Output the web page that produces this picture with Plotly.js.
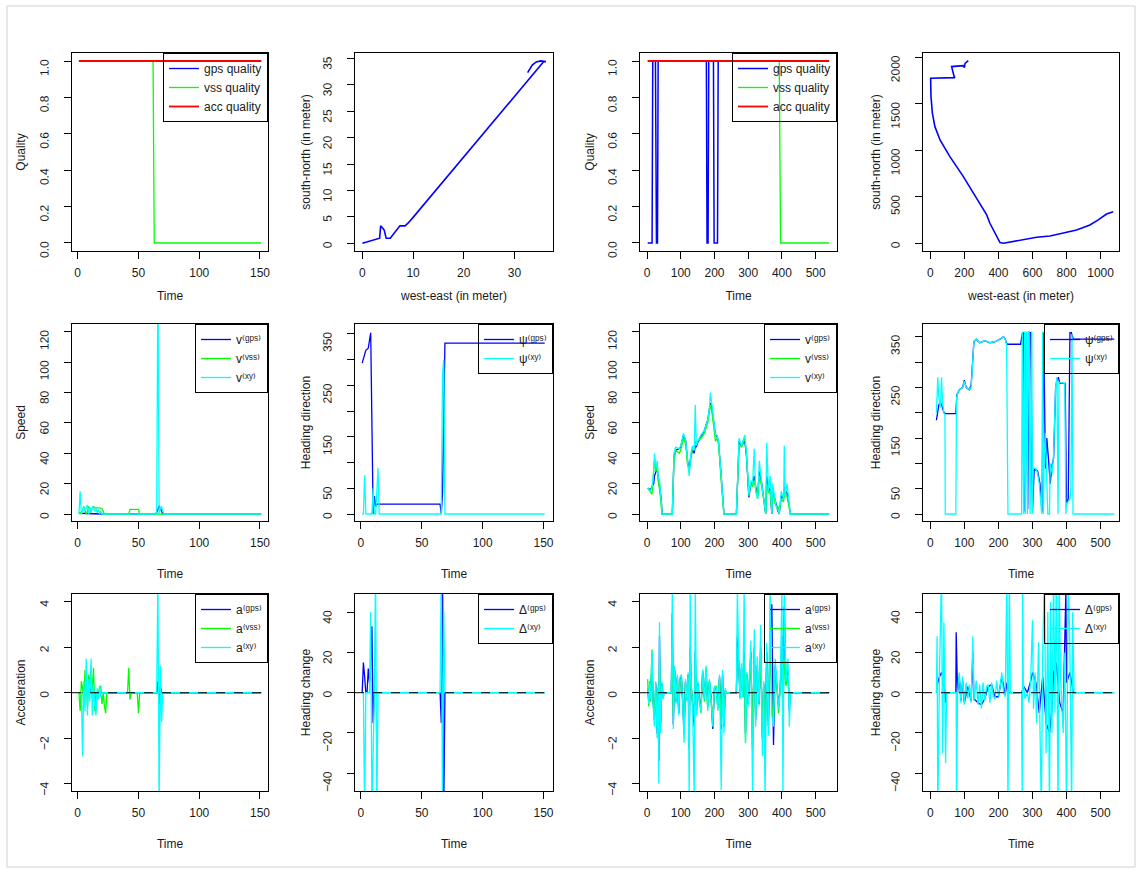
<!DOCTYPE html>
<html><head><meta charset="utf-8">
<script src="https://cdn.plot.ly/plotly-3.0.1.min.js"></script>
<style>html,body{margin:0;padding:0;background:#fff;} #chart{width:1142px;height:873px;}</style>
</head><body><div id="chart"></div>
<script>
// ---------- tick labels ----------
const ticksTimeA = [0, 50, 100, 150];
const ticksTimeB = [0, 100, 200, 300, 400, 500];
const ticksQuality = [0, 0.2, 0.4, 0.6, 0.8, 1.0];
const ticksQualityText = ["0.0", "0.2", "0.4", "0.6", "0.8", "1.0"];
const ticksWestEastA = [0, 10, 20, 30];
const ticksSouthNorthA = [0, 5, 10, 15, 20, 25, 30, 35];
const ticksWestEastB = [0, 200, 400, 600, 800, 1000];
const ticksSouthNorthB = [0, 500, 1000, 1500, 2000];
const ticksSpeed = [0, 20, 40, 60, 80, 100, 120];
const ticksHeading = [0, 50, 150, 250, 350];
const ticksHeadingMinor = [100, 200, 300];
const ticksAcc = [-4, -2, 0, 2, 4];
const ticksHeadChange = [-40, -20, 0, 20, 40];

// ---------- legend labels (superscripts as Unicode modifier letters) ----------
const labQuality = ['gps quality', 'vss quality', 'acc quality'];
const labSpeed = ['v\u207D\u1D4D\u1D56\u02E2\u207E', 'v\u207D\u1D5B\u02E2\u02E2\u207E', 'v\u207D\u02E3\u02B8\u207E'];
const labHeading = ['\u03C8\u207D\u1D4D\u1D56\u02E2\u207E', '\u03C8\u207D\u02E3\u02B8\u207E'];
const labAcc = ['a\u207D\u1D4D\u1D56\u02E2\u207E', 'a\u207D\u1D5B\u02E2\u02E2\u207E', 'a\u207D\u02E3\u02B8\u207E'];
const labChange = ['\u0394\u207D\u1D4D\u1D56\u02E2\u207E', '\u0394\u207D\u02E3\u02B8\u207E'];

// ---------- trip A (left two columns) ----------
const qTimeA = [1, 151];
const gpsQualityA = [1, 1];
const accQualityA = [1, 1];
const vssQTimeA = [1, 62, 63, 151];
const vssQualityA = [1, 1, 0, 0];

const pathXA = [0, 1.5, 3.4, 3.6, 3.9, 4.3, 4.6, 4.7, 5.5, 6.2, 6.8, 7.4, 8.4, 9.0, 10, 15, 20, 25, 30, 35.7, 36.2, 35.2, 34.3, 33.5, 32.6];
const pathYA = [0, 0.4, 0.95, 3.3, 3.0, 2.5, 1.3, 0.95, 0.95, 1.8, 2.5, 3.3, 3.3, 3.8, 4.9, 10.6, 16.3, 22.0, 27.7, 34.3, 34.4, 34.5, 34.3, 33.7, 32.3];

const spdGpsTimeA = [1, 5, 10, 20, 30, 40, 50, 60, 64, 65, 66, 67, 68, 69, 70, 80, 100, 151];
const spdGpsA = [0.5, 0.3, 0.2, 0, 0, 0, 0, 0, 0, 1, 3, 5, 4, 2, 0, 0, 0, 0];
const spdVssTimeA = [1, 2, 3, 4, 5, 6, 7, 8, 9, 10, 11, 12, 13, 14, 16, 18, 20, 21, 22, 25, 40, 42, 43, 50, 51, 55, 60, 63, 64, 151];
const spdVssA = [0, 1, 0, 3, 5, 3, 0, 2, 5, 4, 1, 4, 5, 4, 4, 4, 3.5, 2, 0, 0, 0, 0, 3, 3, 0, 0, 0, 0, 0, 0];
const spdXyTimeA = [1, 2, 3, 4, 5, 6, 7, 8, 9, 10, 11, 12, 13, 14, 15, 16, 17, 18, 19, 20, 25, 30, 60, 64, 65, 66, 67, 68, 69, 70, 71, 75, 151];
const spdXyA = [0, 15, 0, 3, 5, 2, 4, 6, 0, 4, 1, 5, 3, 2, 4, 1, 3, 0, 2, 0, 0, 0, 0, 0, 0, 160, 0, 4, 5, 2, 0, 0, 0];

const hdGpsTimeA = [1, 3, 4, 6, 7, 8, 10, 11, 12, 13, 65, 66, 67, 69, 151];
const hdGpsA = [293, 312, 318, 322, 340, 352, 0, 35, 15, 19, 19, 0, 40, 332, 332];
const hdXyTimeA = [1, 2, 3, 4, 9, 10, 11, 12, 13, 14, 15, 66, 67, 68, 69, 151];
const hdXyA = [0, 0, 75, 0, 0, 50, 0, 0, 40, 90, 0, 0, 270, 300, 0, 0];

const accGpsTimeA = [1, 5, 10, 11, 12, 60, 65, 66, 67, 68, 69, 70, 151];
const accGpsA = [0, 0, 0, 0.2, 0, 0, 0, 0.5, -0.5, 0.3, 0, 0, 0];
const accVssTimeA = [1, 2, 3, 4, 5, 6, 7, 8, 9, 10, 11, 12, 13, 14, 15, 16, 18, 19, 20, 21, 22, 23, 24, 25, 41, 42, 43, 44, 49, 50, 51, 52, 151];
const accVssA = [0, -0.8, 0.5, 0.2, -0.5, 1.0, 0.5, -0.6, 0.8, 0.3, 1.2, -0.2, 1.1, -0.8, 0, -0.3, 0.2, 0.3, -0.5, 0, -0.6, -0.9, 0, 0, 0, 1.1, -0.3, 0, 0, -0.9, 0, 0, 0];
const accXyTimeA = [1, 2, 3, 4, 5, 6, 7, 8, 9, 10, 11, 12, 13, 14, 15, 16, 17, 18, 19, 20, 21, 25, 64, 65, 66, 67, 68, 69, 70, 71, 151];
const accXyA = [0, 0, 0, -2.8, 0.5, -0.8, 1.5, -1.0, 0.6, -0.4, 1.5, -1.0, 0.4, -0.5, -1.0, 0.2, -0.3, 0.3, -0.2, 0, 0, 0, 0, 0, 5, -5, 1.2, -1.3, 0, 0, 0];

const hcGpsTimeA = [1, 2, 3, 4, 5, 6, 7, 8, 9, 10, 11, 12, 60, 65, 66, 67, 68, 69, 151];
const hcGpsA = [0, 15, 8, 0, 0, 12, 5, 12, 33, -15, 0, 0, 0, 0, -15, 60, -60, 0, 0];
const hcXyTimeA = [1, 2, 3, 4, 7, 8, 9, 11, 12, 13, 14, 15, 60, 65, 66, 67, 68, 69, 151];
const hcXyA = [0, 0, -60, 0, 0, 40, -60, 0, 60, -60, 0, 0, 0, 0, 60, -60, 40, 0, 0];

// ---------- trip B (right two columns) ----------
const gpsQTimeB = [2, 15, 17, 25, 28, 31, 33, 176, 178, 181, 183, 197, 199, 209, 211, 540];
const gpsQualityB = [0, 0, 1, 1, 0, 0, 1, 1, 0, 0, 1, 1, 0, 0, 1, 1];
const vssQTimeB = [2, 392, 396, 540];
const vssQualityB = [1, 1, 0, 0];
const accQTimeB = [2, 540];
const accQualityB = [1, 1];

const pathXB = [1074, 1035, 986, 937, 859, 781, 703, 624, 546, 468, 429, 409, 389, 350, 331, 272, 194, 115, 57, 27, 12, 4, 2, 145, 140, 125, 194, 200, 204, 223];
const pathYB = [340, 315, 251, 197, 143, 108, 79, 65, 36, 11, 0, 7, 72, 215, 305, 484, 717, 932, 1111, 1254, 1398, 1577, 1774, 1781, 1790, 1900, 1910, 1890, 1935, 1964];

const spdTimeB = [2, 10, 15, 20, 22, 27, 30, 33, 38, 42, 45, 75, 80, 85, 95, 100, 108, 115, 120, 125, 130, 135, 140, 143, 146, 150, 160, 170, 180, 185, 188, 192, 198, 203, 208, 212, 220, 228, 265, 273, 280, 290, 295, 302, 308, 313, 318, 322, 328, 333, 340, 347, 352, 355, 360, 365, 370, 372, 378, 383, 388, 392, 398, 405, 407, 410, 415, 420, 425, 540];
const spdGpsB = [17, 16, 18, 20, 25, 28, 30, 25, 18, 10, 0, 0, 38, 42, 43, 44, 52, 48, 35, 30, 38, 42, 40, 45, 44, 47, 51, 55, 62, 68, 73, 70, 60, 52, 51, 47, 25, 0, 0, 48, 45, 48, 38, 11, 20, 20, 25, 18, 12, 28, 20, 10, 0, 25, 15, 17, 0, 16, 10, 5, 2, 0, 12, 10, 18, 15, 14, 8, 0, 0];
const spdVssB = [17, 14, 13, 30, 35, 28, 32, 22, 15, 5, 0, 0, 35, 42, 40, 42, 50, 46, 33, 28, 38, 44, 42, 48, 46, 48, 50, 53, 60, 66, 72, 68, 55, 48, 50, 46, 22, 0, 0, 46, 44, 50, 38, 14, 20, 18, 22, 16, 10, 25, 18, 8, 0, 20, 14, 15, 2, 18, 8, 5, 5, 2, 10, 8, 16, 12, 12, 6, 0, 0];
const spdXyB = [17, 15, 18, 28, 40, 30, 35, 25, 20, 10, 0, 0, 40, 44, 43, 45, 53, 48, 35, 25, 40, 45, 42, 72, 45, 48, 52, 55, 62, 70, 80, 72, 60, 52, 52, 48, 25, 0, 0, 50, 45, 52, 40, 12, 22, 20, 43, 15, 10, 35, 20, 10, 0, 47, 15, 25, 0, 20, 10, 5, 3, 0, 15, 10, 45, 12, 20, 10, 0, 0];

const hdGpsTimeB = [18, 22, 25, 30, 35, 40, 45, 75, 78, 85, 95, 100, 105, 115, 120, 128, 135, 145, 160, 175, 190, 205, 215, 220, 225, 265, 270, 274, 278, 282, 286, 290, 295, 300, 305, 315, 322, 328, 333, 338, 342, 348, 352, 357, 362, 368, 372, 376, 380, 390, 396, 400, 405, 410, 414, 420, 540];
const hdGpsB = [185, 205, 215, 220, 212, 200, 198, 198, 235, 245, 250, 264, 250, 245, 255, 340, 345, 338, 342, 338, 340, 345, 350, 345, 335, 335, 355, 358, 5, 358, 10, 358, 358, 5, 88, 85, 60, 5, 358, 90, 150, 100, 60, 95, 110, 250, 265, 270, 258, 258, 258, 20, 30, 358, 358, 345, 345];
const hdXyTimeB = [18, 20, 22, 25, 28, 30, 33, 36, 40, 43, 44, 75, 77, 80, 85, 95, 100, 105, 115, 120, 128, 135, 145, 160, 175, 190, 205, 215, 220, 224, 228, 268, 270, 272, 274, 277, 279, 283, 285, 288, 290, 293, 296, 298, 300, 302, 310, 315, 320, 325, 327, 330, 332, 334, 338, 340, 345, 350, 352, 358, 362, 368, 372, 375, 378, 395, 398, 400, 410, 413, 416, 419, 422, 540];
const hdXyB = [200, 240, 270, 230, 215, 210, 270, 220, 200, 195, 0, 0, 230, 238, 245, 250, 262, 250, 245, 250, 340, 345, 338, 342, 338, 340, 345, 350, 345, 335, 0, 0, 360, 0, 0, 360, 0, 360, 0, 360, 360, 0, 360, 360, 0, 90, 90, 80, 60, 0, 0, 360, 0, 100, 160, 110, 0, 0, 100, 80, 120, 250, 270, 0, 260, 258, 0, 20, 30, 50, 355, 0, 0, 0];

const accTimeB = [2, 5, 8, 10, 12, 15, 18, 22, 26, 30, 33, 35, 37, 40, 44, 48, 50, 72, 75, 78, 82, 86, 90, 94, 98, 102, 106, 110, 114, 118, 122, 125, 128, 131, 135, 140, 143, 147, 151, 155, 160, 165, 170, 175, 180, 185, 190, 195, 200, 205, 210, 215, 220, 224, 228, 232, 235, 265, 268, 272, 276, 280, 284, 288, 292, 296, 300, 304, 308, 313, 318, 322, 327, 332, 337, 342, 346, 350, 355, 360, 365, 370, 375, 380, 385, 390, 395, 400, 403, 407, 412, 418, 422, 425, 540];
const accGpsB = [0.2, -0.3, 0.3, -0.2, 0.4, 1.2, -0.4, -1.2, 0.4, -1.8, 0.2, -3.0, 2.5, -1.5, 0.4, -0.2, 0, 0, 3.5, -1.4, 1.0, -0.4, 0.7, -0.9, 0.6, 0.7, -0.5, -1.8, 0.5, -0.3, 0.8, -2.5, 2.0, 0.3, -0.5, -1.5, 1.8, -0.8, 0.4, -0.3, -0.6, 0.9, -0.2, 1.0, -0.6, 0.5, -0.2, -1.6, 0.2, 0.2, -0.6, 0.7, -1.6, 0.8, -1.5, 0.1, 0, 0, 2.5, 1.0, -0.2, 1.1, -0.2, 2.0, -1.8, 0.8, -0.5, 0.6, 1.8, -2.5, 2.0, -1.2, 1.2, -0.5, 2.0, -2.0, 0.4, -2.5, 1.8, -1.5, 2.5, 3.9, -2.3, 1.2, 0.4, -0.6, 0.2, 2.5, -1.5, 3.8, 0.4, 1.0, -0.8, 0, 0];
const accVssB = [0.6, -0.6, 0.5, -0.4, 0.6, 1.9, -0.3, -1.0, 0.3, -1.5, 0.2, -2.0, 1.5, -1.2, 0.3, -0.2, 0, 0, 2.0, -1.0, 0.9, -0.3, 0.6, -0.7, 0.5, 0.6, -0.4, -1.5, 0.4, -0.2, 0.7, -1.5, 1.5, 0.3, -0.4, -1.2, 1.5, -0.6, 0.3, -0.2, -0.9, 1.0, -0.4, 1.1, -0.7, 0.5, -0.2, -1.2, 0.2, 0.3, -0.7, 0.6, -1.4, 0.7, -1.2, 0.1, 0, 0, 2.0, 1.5, -0.2, 1.0, -0.2, 1.5, -2.2, 0.7, -0.4, 0.5, 1.5, -2.0, 1.8, -1.0, 1.0, -0.4, 1.8, -1.8, 0.3, -2.0, 1.5, -1.2, 2.0, -0.6, -1.2, 1.0, 0.3, -0.9, 0.2, 1.8, -1.0, 1.5, 0.3, 0.8, -0.5, 0, 0];
const accXyB = [0.3, -0.5, 0.4, -0.3, 0.5, 1.8, -0.5, -1.5, 0.5, -2.0, 0.3, -4.0, 3.1, -1.8, 0.5, -0.3, 0, 0, 4.6, -1.6, 1.2, -0.5, 0.8, -1.0, 0.7, 0.8, -0.6, -2.2, 0.6, -0.4, 0.9, -4.6, 4.6, 0.4, -0.6, -4.6, 4.6, -1.0, 0.5, -0.4, -0.8, 1.0, -0.3, 1.2, -0.8, 0.6, -0.3, -1.5, 0.3, 0.2, -0.8, 0.8, -4.3, 1.0, -1.8, 0.2, 0, 0, 4.6, 1.2, -0.3, 1.3, -0.2, 4.6, -2.2, 0.9, -0.6, 0.8, 2.3, -4.6, 2.8, -1.5, 1.6, -0.6, 3.0, -2.8, 0.5, -4.6, 2.2, -1.9, 4.6, -1.0, -1.5, 1.5, 0.5, -0.7, 0.2, 4.6, -4.6, 4.6, 0.5, 1.5, -1.5, 0, 0];

const hcGpsTimeB = [18, 22, 27, 33, 40, 45, 48, 75, 76, 78, 80, 85, 90, 95, 100, 110, 120, 125, 128, 140, 150, 160, 170, 180, 190, 200, 210, 220, 225, 228, 268, 275, 285, 295, 300, 310, 320, 330, 340, 350, 357, 362, 370, 380, 390, 398, 400, 410, 420, 540];
const hcGpsB = [0, 5, 8, 10, 6, -5, 0, 0, 30, 0, 0, 8, -4, 6, -5, 3, -4, 20, -3, -5, -6, -3, 3, 4, -2, -2, 8, -1, 5, 0, 0, 3, 0, 6, 10, 5, -10, 8, -15, -20, -8, 10, 15, -5, -10, 50, 5, 10, 0, 0];
const hcXyTimeB = [18, 20, 22, 27, 33, 36, 40, 45, 48, 75, 76, 77, 80, 85, 90, 95, 100, 105, 110, 115, 120, 125, 128, 135, 140, 145, 150, 155, 160, 165, 170, 175, 180, 185, 190, 195, 200, 205, 210, 215, 220, 225, 228, 232, 235, 268, 270, 271, 273, 278, 285, 290, 295, 300, 303, 308, 312, 318, 322, 326, 330, 335, 340, 345, 350, 353, 357, 362, 366, 370, 375, 378, 382, 390, 395, 400, 405, 410, 415, 418, 422, 540];
const hcXyB = [0, 28, -60, 10, 60, -30, 35, -35, 0, 0, 0, -60, 0, 10, -5, 8, -6, 5, -3, 4, -5, 28, -4, 6, -6, 4, -8, 5, -4, 3, 4, -5, 5, -2, -3, 6, -2, 3, 10, 0, -2, 60, -60, 60, 0, 0, -60, 60, 5, -3, 0, -5, 8, 36, -8, 10, -15, 25, -20, -60, 20, 60, -30, 40, -60, 45, -20, 60, -10, 60, -60, 60, 10, -20, 20, -60, 60, 20, -60, 40, 0, 0];

// ---------- layout geometry ----------
const W = 1142, H = 873;
const colPx = [[72, 268], [355, 553], [640, 837], [923, 1119]];
const rowPx = [[53, 251], [324, 521], [594, 791]];
const xTitleStandoff = [12, 20, 20];
const yTitleStandoff = [9, 7, 8, 5];

const BLUE = '#0000FF', GREEN = '#00FF00', RED = '#FF0000', CYAN = '#00FFFF';
const FONT = 'Liberation Sans, Arial, Helvetica, DejaVu Sans, sans-serif';
const TXT = '#1a1a1a';

const panels = [
  {c:0, r:0, xr:[-4.7,156.6], yr:[-0.044,1.044], xt:ticksTimeA, yt:ticksQuality, ytt:ticksQualityText, xl:'Time', yl:'Quality', leg:true,
   tr:[[qTimeA,gpsQualityA,BLUE,labQuality[0]],[vssQTimeA,vssQualityA,GREEN,labQuality[1]],[qTimeA,accQualityA,RED,labQuality[2],1.8]]},
  {c:1, r:0, xr:[-1.46,37.6], yr:[-1.46,36.0], xt:ticksWestEastA, yt:ticksSouthNorthA, xl:'west-east (in meter)', yl:'south-north (in meter)', leg:false,
   tr:[[pathXA,pathYA,BLUE,'path',1.6]]},
  {c:2, r:0, xr:[-20.8,563.3], yr:[-0.044,1.044], xt:ticksTimeB, yt:ticksQuality, ytt:ticksQualityText, xl:'Time', yl:'Quality', leg:true,
   tr:[[gpsQTimeB,gpsQualityB,BLUE,labQuality[0],1.5],[vssQTimeB,vssQualityB,GREEN,labQuality[1]],[accQTimeB,accQualityB,RED,labQuality[2],1.8]]},
  {c:3, r:0, xr:[-43,1108], yr:[-83,2046], xt:ticksWestEastB, yt:ticksSouthNorthB, xl:'west-east (in meter)', yl:'south-north (in meter)', leg:false,
   tr:[[pathXB,pathYB,BLUE,'path',1.6]]},
  {c:0, r:1, xr:[-4.7,156.6], yr:[-4.6,125.1], xt:ticksTimeA, yt:ticksSpeed, xl:'Time', yl:'Speed', leg:true,
   tr:[[spdGpsTimeA,spdGpsA,BLUE,labSpeed[0]],[spdVssTimeA,spdVssA,GREEN,labSpeed[1]],[spdXyTimeA,spdXyA,CYAN,labSpeed[2]]]},
  {c:1, r:1, xr:[-4.9,157.8], yr:[-13.6,369], xt:ticksTimeA, yt:ticksHeading, ym:ticksHeadingMinor, xl:'Time', yl:'Heading direction', leg:true,
   tr:[[hdGpsTimeA,hdGpsA,BLUE,labHeading[0]],[hdXyTimeA,hdXyA,CYAN,labHeading[1]]]},
  {c:2, r:1, xr:[-20.8,563.3], yr:[-4.6,125.1], xt:ticksTimeB, yt:ticksSpeed, xl:'Time', yl:'Speed', leg:true,
   tr:[[spdTimeB,spdGpsB,BLUE,labSpeed[0]],[spdTimeB,spdVssB,GREEN,labSpeed[1]],[spdTimeB,spdXyB,CYAN,labSpeed[2]]]},
  {c:3, r:1, xr:[-21.4,554], yr:[-13.8,375], xt:ticksTimeB, yt:ticksHeading, ym:ticksHeadingMinor, xl:'Time', yl:'Heading direction', leg:true,
   tr:[[hdGpsTimeB,hdGpsB,BLUE,labHeading[0]],[hdXyTimeB,hdXyB,CYAN,labHeading[1]]]},
  {c:0, r:2, xr:[-4.7,156.6], yr:[-4.33,4.35], xt:ticksTimeA, yt:ticksAcc, xl:'Time', yl:'Acceleration', leg:true, zero:true,
   tr:[[accGpsTimeA,accGpsA,BLUE,labAcc[0]],[accVssTimeA,accVssA,GREEN,labAcc[1]],[accXyTimeA,accXyA,CYAN,labAcc[2]]]},
  {c:1, r:2, xr:[-4.9,157.8], yr:[-48.8,49], xt:ticksTimeA, yt:ticksHeadChange, xl:'Time', yl:'Heading change', leg:true, zero:true,
   tr:[[hcGpsTimeA,hcGpsA,BLUE,labChange[0]],[hcXyTimeA,hcXyA,CYAN,labChange[1]]]},
  {c:2, r:2, xr:[-20.8,563.3], yr:[-4.33,4.35], xt:ticksTimeB, yt:ticksAcc, xl:'Time', yl:'Acceleration', leg:true, zero:true,
   tr:[[accTimeB,accGpsB,BLUE,labAcc[0]],[accTimeB,accVssB,GREEN,labAcc[1]],[accTimeB,accXyB,CYAN,labAcc[2]]]},
  {c:3, r:2, xr:[-21.4,554], yr:[-48.8,49], xt:ticksTimeB, yt:ticksHeadChange, xl:'Time', yl:'Heading change', leg:true, zero:true,
   tr:[[hcGpsTimeB,hcGpsB,BLUE,labChange[0]],[hcXyTimeB,hcXyB,CYAN,labChange[1]]]}
];

const data = [];
const layout = {
  width: W, height: H,
  margin: {l:0, r:0, t:0, b:0},
  paper_bgcolor: '#ffffff', plot_bgcolor: '#ffffff',
  font: {family: FONT, size: 12, color: TXT},
  shapes: [],
  hovermode: false
};

const tickFont = {family: FONT, size: 12, color: TXT};
const titleFont = {family: FONT, size: 12, color: TXT};
let legCount = 0;
panels.forEach((p, k) => {
  const i = k + 1;
  const sfx = i === 1 ? '' : String(i);
  const xa = 'x' + sfx, ya = 'y' + sfx;
  const cx = colPx[p.c], ry = rowPx[p.r];
  let legName = null;
  if (p.leg) {
    legCount++;
    legName = legCount === 1 ? 'legend' : 'legend' + legCount;
    layout[legName] = {
      x: cx[1] / W, y: 1 - ry[0] / H, xref: 'paper', yref: 'paper',
      xanchor: 'right', yanchor: 'top',
      bgcolor: 'rgba(0,0,0,0)', bordercolor: '#000', borderwidth: 1,
      font: {family: FONT, size: 12, color: TXT},
      itemwidth: 30, tracegroupgap: 0, traceorder: 'normal'
    };
  }
  p.tr.forEach(t => {
    const tr = {
      type: 'scatter', mode: 'lines', x: t[0], y: t[1], name: t[3],
      xaxis: xa, yaxis: ya,
      line: {color: t[2], width: t[4] || 1.3},
      showlegend: !!p.leg
    };
    if (legName) tr.legend = legName;
    data.push(tr);
  });
  const common = {
    ticks: 'outside', ticklen: 7, tickwidth: 1, tickcolor: '#000',
    showline: true, mirror: true, linecolor: '#000', linewidth: 1,
    showgrid: false, zeroline: false, tickfont: tickFont,
    fixedrange: true, automargin: false
  };
  layout['xaxis' + sfx] = Object.assign({}, common, {
    domain: [cx[0] / W, cx[1] / W], range: p.xr, anchor: ya,
    tickmode: 'array', tickvals: p.xt, ticklabelstandoff: 4,
    title: {text: p.xl, font: titleFont, standoff: xTitleStandoff[p.r]}
  });
  const yax = Object.assign({}, common, {
    domain: [1 - ry[1] / H, 1 - ry[0] / H], range: p.yr, anchor: xa,
    tickmode: 'array', tickvals: p.yt, tickangle: -89.9, ticklabelstandoff: 19,
    title: {text: p.yl, font: titleFont, standoff: yTitleStandoff[p.c]}
  });
  if (p.ytt) yax.ticktext = p.ytt;
  if (p.ym) yax.minor = {tickmode: 'array', tickvals: p.ym, ticks: 'outside', ticklen: 7, tickwidth: 1, tickcolor: '#000', showgrid: false};
  layout['yaxis' + sfx] = yax;

  if (p.zero) {
    layout.shapes.push({
      type: 'line', xref: xa + ' domain', yref: ya, x0: 0, x1: 1, y0: 0, y1: 0,
      line: {color: '#000', width: 1, dash: 'dash'}
    });
  }
});

// outer frame of the figure page
layout.shapes.push({
  type: 'rect', xref: 'paper', yref: 'paper',
  x0: 7 / W, x1: 1135 / W, y0: 1 - 867 / H, y1: 1 - 6 / H,
  line: {color: '#d0d0d0', width: 1}, fillcolor: 'rgba(0,0,0,0)', layer: 'below'
});

Plotly.newPlot('chart', data, layout, {displayModeBar: false, staticPlot: true});
</script></body></html>
